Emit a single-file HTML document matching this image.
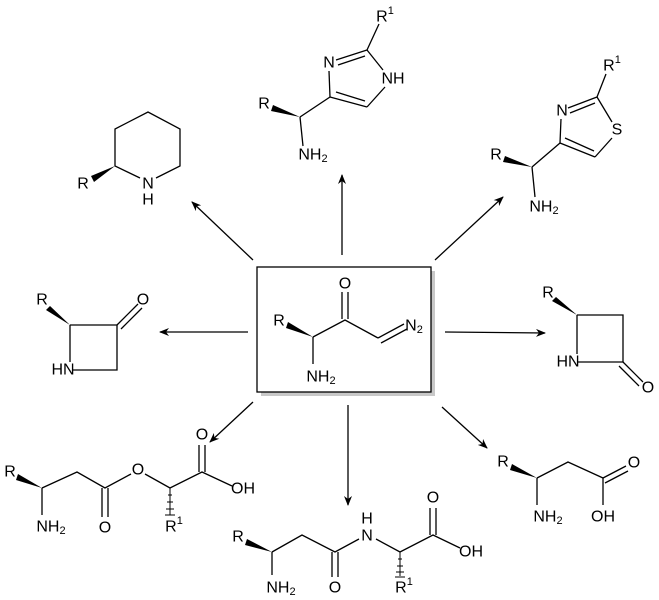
<!DOCTYPE html>
<html><head><meta charset="utf-8"><style>
html,body{margin:0;padding:0;background:#fff}
svg{display:block}
text{font-family:"Liberation Sans",Arial,sans-serif;font-size:16px;fill:#000;text-anchor:middle;dominant-baseline:central}
.s{font-size:11px}
</style></head><body>
<svg width="659" height="600" viewBox="0 0 659 600" xmlns="http://www.w3.org/2000/svg">
<defs><marker id="a" markerWidth="10" markerHeight="8" refX="9" refY="4" orient="auto" markerUnits="userSpaceOnUse"><path d="M0,0 L10,4 L0,8 L3,4 z" fill="#000"/></marker></defs>
<g stroke="#000" stroke-width="1.3" fill="none">
<rect x="261" y="271" width="174" height="125" fill="#c8c8c8" stroke="none"/>
<rect x="257" y="267" width="174" height="125" fill="#fff"/>
<line x1="253" y1="260" x2="192" y2="202" marker-end="url(#a)"/>
<line x1="342" y1="255" x2="342" y2="175" marker-end="url(#a)"/>
<line x1="435" y1="260" x2="503" y2="197" marker-end="url(#a)"/>
<line x1="248" y1="332" x2="160" y2="332" marker-end="url(#a)"/>
<line x1="445" y1="332" x2="545" y2="333" marker-end="url(#a)"/>
<line x1="253" y1="402" x2="210" y2="442" marker-end="url(#a)"/>
<line x1="348" y1="405" x2="348" y2="505" marker-end="url(#a)"/>
<line x1="442" y1="407" x2="487" y2="448" marker-end="url(#a)"/>
<polyline points="313,337 345,320 378,338"/>
<line x1="342" y1="319" x2="342" y2="292"/><line x1="348" y1="319" x2="348" y2="292"/>
<line x1="378" y1="338" x2="404" y2="324"/><line x1="381" y1="343" x2="407" y2="329"/>
<line x1="313" y1="337" x2="313" y2="364"/>
<polyline points="140,178 115,166 115,129 148,112 180,129 180,166 156,178"/>
<polyline points="70,325 117,325 117,370 72,370"/>
<line x1="70" y1="325" x2="70" y2="362"/>
<line x1="117" y1="325" x2="138" y2="304"/><line x1="121" y1="329" x2="142" y2="308"/>
<polyline points="577,315 623,315 623,362 578,362"/>
<line x1="577" y1="315" x2="577" y2="354"/>
<line x1="623" y1="362" x2="643" y2="382"/><line x1="619" y1="366" x2="639" y2="386"/>
<line x1="367" y1="50" x2="379" y2="24"/>
<line x1="367" y1="50" x2="336" y2="60"/><line x1="365" y1="56" x2="338" y2="65"/>
<line x1="367" y1="50" x2="383" y2="70"/>
<line x1="329" y1="71" x2="330" y2="97"/>
<line x1="330" y1="97" x2="367" y2="107"/><line x1="336" y1="92" x2="365" y2="101"/>
<line x1="367" y1="107" x2="385" y2="87"/>
<line x1="330" y1="97" x2="300" y2="117"/>
<line x1="300" y1="117" x2="303" y2="146"/>
<line x1="597" y1="97" x2="606" y2="74"/>
<line x1="597" y1="97" x2="568" y2="108"/><line x1="595" y1="103" x2="570" y2="113"/>
<line x1="597" y1="97" x2="612" y2="122"/>
<line x1="561" y1="119" x2="560" y2="143"/>
<line x1="560" y1="143" x2="595" y2="157"/><line x1="565" y1="138" x2="594" y2="151"/>
<line x1="595" y1="157" x2="612" y2="138"/>
<line x1="560" y1="143" x2="532" y2="167"/>
<line x1="532" y1="167" x2="535" y2="197"/>
<polyline points="42,488 77,472 105,488 131,474"/>
<line x1="42" y1="488" x2="42" y2="515"/>
<line x1="102" y1="488" x2="102" y2="517"/><line x1="108" y1="488" x2="108" y2="517"/>
<polyline points="145,474 170,488 202,472 232,486"/>
<line x1="199" y1="472" x2="199" y2="445"/><line x1="205" y1="472" x2="205" y2="445"/>
<polyline points="272,552 302,535 335,552 359,539"/>
<line x1="272" y1="552" x2="272" y2="575"/>
<line x1="332" y1="552" x2="332" y2="577"/><line x1="338" y1="552" x2="338" y2="577"/>
<polyline points="376,539 400,552 433,535 460,548"/>
<line x1="430" y1="535" x2="430" y2="508"/><line x1="436" y1="535" x2="436" y2="508"/>
<polyline points="537,478 568,462 603,478"/>
<line x1="537" y1="478" x2="537" y2="505"/>
<line x1="603" y1="478" x2="603" y2="505"/>
<line x1="603" y1="478" x2="626" y2="466"/><line x1="605" y1="483" x2="628" y2="471"/>
</g>
<g fill="#000">
<polygon points="313,337 288,322 286,328"/>
<polygon points="115,166 91,176 94,182"/>
<polygon points="577,315 556,297 552,301"/>
<polygon points="70,325 50,306 46,310"/>
<polygon points="300,117 273,105 271,111"/>
<polygon points="532,167 505,156 503,162"/>
<polygon points="42,488 18,474 16,480"/>
<polygon points="272,552 247,539 245,545"/>
<polygon points="537,478 512,464 510,470"/>
</g>
<g stroke="#000" stroke-width="1">
<line x1="170" y1="488" x2="170" y2="515"/><line x1="168" y1="495" x2="172" y2="495"/><line x1="167" y1="502" x2="173" y2="502"/><line x1="166" y1="509" x2="174" y2="509"/><line x1="165" y1="515" x2="175" y2="515"/>
<line x1="400" y1="552" x2="400" y2="576"/><line x1="398" y1="559" x2="402" y2="559"/><line x1="397" y1="566" x2="403" y2="566"/><line x1="396" y1="572" x2="404" y2="572"/><line x1="395" y1="577" x2="405" y2="577"/>
</g>
<text x="279" y="321">R</text>
<text x="345" y="284">O</text>
<text x="414" y="326">N<tspan class="s" dy="4">2</tspan></text>
<text x="321" y="377">NH<tspan class="s" dy="4">2</tspan></text>
<text x="83" y="184">R</text>
<text x="148" y="184">N</text>
<text x="148" y="200">H</text>
<text x="42" y="300">R</text>
<text x="143" y="300">O</text>
<text x="63" y="370">HN</text>
<text x="548" y="293">R</text>
<text x="568" y="362">HN</text>
<text x="648" y="388">O</text>
<text x="385" y="17">R<tspan class="s" dy="-6">1</tspan></text>
<text x="329" y="63">N</text>
<text x="393" y="79">NH</text>
<text x="264" y="104">R</text>
<text x="313" y="155">NH<tspan class="s" dy="4">2</tspan></text>
<text x="612" y="66">R<tspan class="s" dy="-6">1</tspan></text>
<text x="562" y="111">N</text>
<text x="617" y="130">S</text>
<text x="496" y="155">R</text>
<text x="544" y="207">NH<tspan class="s" dy="4">2</tspan></text>
<text x="10" y="472">R</text>
<text x="51" y="527">NH<tspan class="s" dy="4">2</tspan></text>
<text x="105" y="528">O</text>
<text x="138" y="470">O</text>
<text x="174" y="527">R<tspan class="s" dy="-6">1</tspan></text>
<text x="202" y="435">O</text>
<text x="243" y="489">OH</text>
<text x="238" y="537">R</text>
<text x="281" y="588">NH<tspan class="s" dy="4">2</tspan></text>
<text x="335" y="588">O</text>
<text x="367" y="536">N</text>
<text x="367" y="519">H</text>
<text x="404" y="588">R<tspan class="s" dy="-6">1</tspan></text>
<text x="433" y="498">O</text>
<text x="471" y="552">OH</text>
<text x="503" y="462">R</text>
<text x="548" y="517">NH<tspan class="s" dy="4">2</tspan></text>
<text x="634" y="463">O</text>
<text x="603" y="517">OH</text>
</svg>
</body></html>
